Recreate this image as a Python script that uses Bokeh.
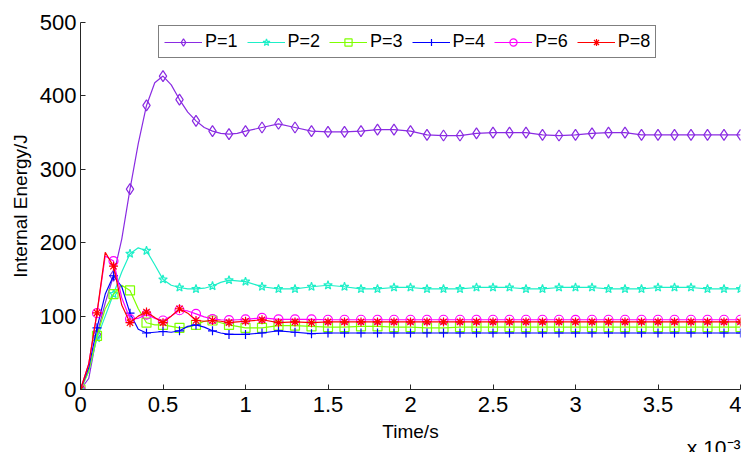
import numpy as np
from bokeh.plotting import figure
from bokeh.models import Legend, LegendItem, Title, FixedTicker, Range1d
from bokeh.embed import file_html
from bokeh.resources import INLINE

# time in units of 1e-3 s
t = [0.0, 0.05, 0.1, 0.15, 0.2, 0.25, 0.3, 0.35, 0.4, 0.45, 0.5, 0.55, 0.6, 0.65, 0.7, 0.75,
     0.8, 0.85, 0.9, 0.95, 1.0,
     1.1, 1.2, 1.3, 1.4, 1.5, 1.6, 1.7, 1.8, 1.9, 2.0,
     2.1, 2.2, 2.3, 2.4, 2.5, 2.6, 2.7, 2.8, 2.9, 3.0,
     3.1, 3.2, 3.3, 3.4, 3.5, 3.6, 3.7, 3.8, 3.9, 4.0]

p1 = [0, 15, 75, 118, 155, 205, 273, 335, 387, 418, 427, 415, 395, 378, 366, 357, 352, 349, 348, 349, 352,
      357, 362, 357, 352, 351, 351, 352, 354, 354, 352,
      347, 346, 346, 349, 350, 350, 350, 347, 346, 347,
      349, 350, 350, 347, 347, 347, 347, 347, 347, 347]
p2 = [0, 25, 70, 100, 130, 160, 185, 193, 189, 170, 150, 142, 139, 137, 137, 138, 141, 146, 149, 148, 147,
      140, 137, 137, 140, 142, 140, 137, 137, 139, 139,
      137, 137, 137, 139, 139, 139, 137, 137, 139, 139,
      139, 137, 137, 137, 139, 139, 139, 137, 137, 137]
p3 = [0, 25, 73, 110, 130, 142, 135, 110, 91, 88, 88, 86, 84, 85, 88, 93, 94, 91, 88, 86, 84,
      84, 87, 87, 86, 85, 85, 86, 86, 85, 85,
      84, 84, 85, 85, 85, 85, 85, 85, 85, 85,
      85, 85, 85, 85, 85, 85, 85, 85, 85, 85]
p4 = [0, 30, 84, 130, 155, 140, 104, 82, 77, 78, 79, 78, 80, 86, 88, 85, 80, 77, 75, 75, 75,
      77, 80, 78, 76, 77, 77, 77, 77, 77, 77,
      77, 77, 77, 77, 77, 77, 77, 77, 77, 77,
      77, 77, 77, 77, 77, 77, 77, 77, 77, 77]
p6 = [0, 35, 104, 182, 175, 125, 96, 97, 102, 97, 94, 100, 108, 107, 103, 99, 96, 95, 94.5, 95, 95.5,
      97.5, 95.5, 95.5, 95.5, 95, 95, 95, 95, 95, 95,
      95, 95, 95, 95, 95, 95, 95, 95, 95, 95,
      95, 95, 95, 95, 95, 95, 95, 95, 95, 95]
p8 = [0, 35, 104.5, 187, 168, 115, 91, 100, 105.5, 98, 91, 100, 110, 104, 94, 93, 94, 93, 91, 92, 93,
      95, 91, 92, 91, 92, 92, 92, 92, 92, 92,
      92, 92, 92, 92, 92, 92, 92, 92, 92, 92,
      92, 92, 92, 92, 92, 92, 92, 92, 92, 92]

series_names = ["P=1", "P=2", "P=3", "P=4", "P=6", "P=8"]
x_ticks = [0, 0.5, 1, 1.5, 2, 2.5, 3, 3.5, 4]
y_ticks = [0, 100, 200, 300, 400, 500]

colors = ["#8A2BE2", "#1DEFC8", "#7FFF00", "#0000FF", "#FF00FF", "#FF0000"]
markers = ["diamond", "star", "square", "cross", "circle", "asterisk"]
msizes = [11, 9, 9, 9, 9, 9]

FONT = "Liberation Sans"

p = figure(frame_width=660, frame_height=367, output_backend="svg", toolbar_location=None,
           x_range=Range1d(0, 4), y_range=Range1d(0, 500),
           min_border_left=80, min_border_right=1, min_border_top=22, min_border_bottom=63)
p.outline_line_color = None
p.xgrid.visible = False
p.ygrid.visible = False

tt = np.array(t)
mask = np.isclose(tt * 10, np.round(tt * 10))

items = []
for name, vals, c, m, s in zip(series_names, [p1, p2, p3, p4, p6, p8], colors, markers, msizes):
    vv = np.array(vals, dtype=float)
    r1 = p.line(tt, vv, line_color=c, line_width=1.2)
    r2 = p.scatter(tt[mask], vv[mask], marker=m, size=s, line_color=c, fill_color=None,
                   line_width=1.2)
    items.append(LegendItem(label=name, renderers=[r1, r2]))

legend = Legend(items=items, orientation="horizontal", location=(78, 331),
                glyph_width=38, glyph_height=18, label_height=18,
                label_text_font=FONT, label_text_font_size="18px", label_text_color="black",
                label_standoff=3, spacing=9, padding=5, margin=0,
                border_line_color="black", border_line_width=1,
                background_fill_color="white", background_fill_alpha=1)
p.add_layout(legend)

for ax in (p.xaxis, p.yaxis):
    ax.axis_line_color = "#262626"
    ax.major_tick_line_color = "#262626"
    ax.major_tick_in = 5
    ax.major_tick_out = 0
    ax.minor_tick_line_color = None
    ax.major_label_text_font = FONT
    ax.major_label_text_font_size = "22px"
    ax.major_label_text_color = "black"
    ax.axis_label_text_font = FONT
    ax.axis_label_text_font_style = "normal"
    ax.axis_label_text_font_size = "19px"
    ax.axis_label_text_color = "black"

p.xaxis.ticker = FixedTicker(ticks=x_ticks)
p.yaxis.ticker = FixedTicker(ticks=y_ticks)
p.xaxis.major_label_overrides = {0: "0", 0.5: "0.5", 1: "1", 1.5: "1.5", 2: "2",
                                 2.5: "2.5", 3: "3", 3.5: "3.5", 4: "4"}
p.xaxis.major_label_standoff = 7
p.yaxis.major_label_standoff = 4
p.xaxis.axis_label = "Time/s"
p.yaxis.axis_label = "Internal Energy/J"
p.xaxis.axis_label_standoff = 6
p.yaxis.axis_label_standoff = 6

scale_note = Title(text="x 10\u207b\u00b3", align="right", standoff=-21, offset=0,
                   text_font=FONT, text_font_size="21px", text_font_style="normal",
                   text_color="black")
p.add_layout(scale_note, "below")

open("out.html", "w").write(file_html(p, INLINE))
